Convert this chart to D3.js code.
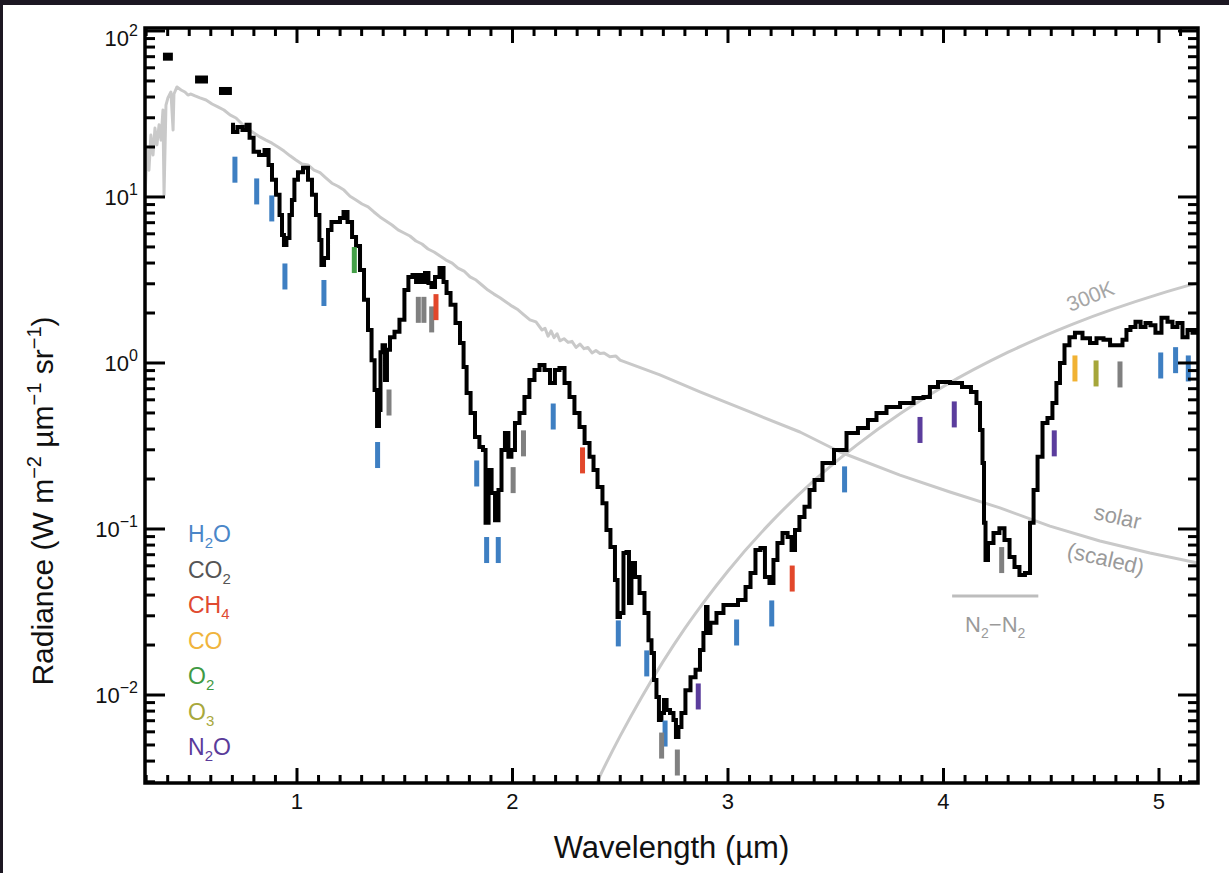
<!DOCTYPE html>
<html><head><meta charset="utf-8">
<script src="https://cdn.jsdelivr.net/npm/d3@7"></script>
<style>
html,body{margin:0;padding:0;background:#1c1722;}
svg{display:block;}
text{font-family:"Liberation Sans",Arial,Helvetica,sans-serif;}
</style></head><body>
<svg id="chart" width="1229" height="873"></svg>
<script>
// ---------- DATA ----------
const spectrumWl = [0.694,0.712,0.735,0.759,0.773,0.787,0.810,0.838,0.861,0.875,
0.893,0.912,0.926,0.935,0.944,0.958,0.972,0.981,0.995,1.014,
1.042,1.060,1.079,1.097,1.111,1.116,1.135,1.153,1.167,1.190,
1.209,1.223,1.246,1.265,1.283,1.302,1.320,1.339,1.353,1.367,
1.376,1.385,1.390,1.404,1.413,1.422,1.441,1.464,1.487,1.510,
1.524,1.548,1.557,1.571,1.585,1.603,1.617,1.631,1.650,1.673,
1.687,1.701,1.724,1.747,1.766,1.780,1.794,1.817,1.835,1.858,
1.868,1.882,1.896,1.910,1.928,1.942,1.956,1.974,1.988,2.002,
2.021,2.044,2.067,2.090,2.114,2.137,2.160,2.188,2.206,2.230,
2.253,2.276,2.299,2.323,2.346,2.369,2.383,2.406,2.429,2.443,
2.466,2.485,2.490,2.508,2.522,2.536,2.545,2.559,2.578,2.601,
2.624,2.638,2.652,2.661,2.675,2.684,2.698,2.708,2.722,2.740,
2.754,2.763,2.777,2.791,2.814,2.838,2.861,2.879,2.893,2.903,
2.907,2.930,2.963,2.995,3.023,3.070,3.093,3.116,3.139,3.162,
3.181,3.204,3.218,3.241,3.265,3.288,3.302,3.320,3.343,3.367,
3.390,3.413,3.464,3.520,3.580,3.626,3.673,3.705,3.766,3.831,
3.891,3.923,3.951,3.998,4.063,4.109,4.146,4.160,4.179,4.183,
4.193,4.197,4.216,4.248,4.271,4.295,4.318,4.341,4.364,4.392,
4.411,4.425,4.448,4.471,4.494,4.517,4.531,4.550,4.573,4.596,
4.624,4.666,4.694,4.726,4.759,4.787,4.819,4.842,4.856,4.879,
4.903,4.926,4.949,4.972,4.995,5.028,5.051,5.074,5.097,5.121,
5.144,5.167,5.181];
const spectrumRad = [27.2,24.6,26.4,25.3,27.2,22.7,18.7,17.9,19.2,15.6,
12.7,10.3,7.79,5.90,5.14,5.66,7.79,9.59,12.7,14.1,
15.0,12.7,10.3,7.79,5.51,3.89,4.29,6.33,7.07,7.07,
7.47,8.12,7.07,5.74,5.07,3.63,2.40,1.58,1.04,0.688,
0.417,0.521,1.16,1.28,0.790,1.20,1.43,1.54,1.82,2.75,
3.30,3.39,3.07,3.39,3.07,3.48,3.03,2.87,3.30,3.73,
3.07,2.64,2.24,1.74,1.32,0.946,0.660,0.500,0.358,0.312,
0.299,0.109,0.227,0.165,0.113,0.172,0.299,0.379,0.272,0.299,
0.435,0.500,0.624,0.790,0.908,0.972,0.908,0.758,0.908,0.933,
0.758,0.624,0.500,0.412,0.330,0.272,0.227,0.179,0.143,0.0986,
0.0779,0.0493,0.0295,0.0312,0.0717,0.0727,0.0358,0.0624,0.0514,0.0412,
0.0312,0.0214,0.0179,0.0123,0.00973,0.00707,0.00780,0.00933,0.00813,0.00780,
0.00707,0.00558,0.00641,0.00780,0.0107,0.0128,0.0142,0.0187,0.0236,0.0339,
0.0236,0.0272,0.0312,0.0348,0.0348,0.0373,0.0448,0.0543,0.0747,0.0769,
0.0514,0.0473,0.0650,0.0824,0.0946,0.0895,0.0747,0.0986,0.118,0.136,
0.172,0.197,0.250,0.299,0.379,0.406,0.454,0.500,0.543,0.574,
0.615,0.624,0.717,0.769,0.758,0.717,0.669,0.574,0.395,0.250,
0.109,0.0650,0.0824,0.0946,0.101,0.0859,0.0678,0.0590,0.0528,0.0543,
0.109,0.172,0.272,0.435,0.466,0.574,0.758,1.00,1.28,1.43,
1.52,1.41,1.32,1.41,1.38,1.28,1.28,1.38,1.58,1.65,
1.77,1.65,1.74,1.69,1.52,1.87,1.77,1.65,1.74,1.43,
1.58,1.52,1.58];

const solarWl = [0.295,0.304,0.313,0.322,0.332,0.341,0.350,0.360,0.369,0.378,
0.383,0.392,0.401,0.415,0.425,0.429,0.443,0.462,0.480,0.494,
0.508,0.527,0.550,0.578,0.606,0.633,0.661,0.689,0.717,0.745,
0.773,0.800,0.828,0.856,0.884,0.912,0.940,0.968,0.995,1.023,
1.051,1.079,1.107,1.135,1.162,1.190,1.218,1.246,1.274,1.302,
1.330,1.357,1.385,1.413,1.441,1.469,1.497,1.524,1.552,1.580,
1.608,1.636,1.664,1.692,1.720,1.747,1.775,1.803,1.831,1.858,
1.886,1.914,1.942,1.970,1.998,2.026,2.053,2.081,2.109,2.137,
2.151,2.165,2.179,2.193,2.207,2.220,2.239,2.258,2.276,2.295,
2.313,2.332,2.350,2.369,2.387,2.406,2.425,2.452,2.480,2.499,
2.684,2.870,3.102,3.334,3.520,3.798,4.030,4.262,4.494,4.726,4.958,5.181];
const solarRad = [10.3,19.2,14.5,23.6,17.9,26.0,20.6,27.2,22.0,33.4,
10.3,35.8,39.5,42.9,25.3,41.7,46.0,44.1,42.9,41.1,
41.7,40.6,39.5,38.4,36.3,34.9,33.4,31.2,29.9,27.5,
25.7,24.3,23.0,22.0,21.1,20.0,18.9,17.7,16.7,15.8,
15.6,14.5,14.0,13.0,12.1,11.6,11.0,10.1,9.59,9.07,
8.71,8.12,7.58,7.17,6.78,6.33,6.07,5.82,5.43,5.21,
4.86,4.66,4.41,4.17,4.00,3.73,3.58,3.30,3.16,2.95,
2.75,2.60,2.47,2.33,2.20,2.09,1.95,1.82,1.77,1.58,
1.62,1.45,1.56,1.42,1.50,1.36,1.40,1.33,1.35,1.24,
1.30,1.22,1.24,1.15,1.19,1.14,1.15,1.09,1.10,1.04,
0.847,0.669,0.507,0.384,0.291,0.211,0.167,0.134,0.104,0.0847,0.0717,0.0624];

const bb300Wl  = [2.38,2.40,2.50,2.60,2.70,2.80,2.90,3.00,3.20,3.40,3.60,3.80,4.00,4.30,4.60,5.00,5.20];
const bb300Rad = [0.00277,0.00314,0.00567,0.00974,0.0160,0.0252,0.0381,0.0559,0.110,0.196,0.322,0.496,0.722,1.161,1.716,2.60,3.09];

const photWl    = [0.401,0.557,0.668];
const photRad   = [70,51,43.5];
const photWidth = [0.046,0.060,0.060];

const markerSpecies = ["H2O","H2O","H2O","H2O","H2O","H2O","H2O","H2O","H2O","H2O","H2O","H2O","H2O","H2O","H2O","H2O","H2O","H2O","H2O",
  "CO2","CO2","CO2","CO2","CO2","CO2","CO2","CO2","CO2","CO2",
  "CH4","CH4","CH4","CO","O2","O3","N2O","N2O","N2O","N2O"];
const markerWl = [0.712,0.813,0.883,0.944,1.125,1.374,1.834,1.880,1.934,2.189,2.491,2.623,2.708,3.040,3.203,3.541,5.008,5.077,5.136,
  1.563,1.589,1.625,1.427,2.003,2.051,2.692,2.765,4.270,4.819,
  1.645,2.325,3.298,4.610,1.266,4.708,2.862,3.891,4.050,4.514];
const markerRad = [14.6,10.8,8.53,3.32,2.64,0.279,0.216,0.0747,0.0747,0.476,0.0235,0.0155,0.00586,0.0238,0.0310,0.199,0.966,1.04,0.927,
  2.09,2.09,1.83,0.578,0.197,0.328,0.00496,0.00392,0.0650,0.853,
  2.17,0.259,0.0503,0.927,4.17,0.865,0.00980,0.395,0.490,0.328];

const speciesKeys   = ["H2O","CO2","CH4","CO","O2","O3","N2O"];
const speciesParts  = [["H","2","O"],["CO","2",""],["CH","4",""],["CO","",""],["O","2",""],["O","3",""],["N","2","O"]];
const speciesColor  = ["#3e7fc2","#808080","#e2472b","#f1b233","#45a048","#a6a63a","#5b3d9d"];
const legendColor   = ["#4a86c8","#555555","#e04a30","#f0b43c","#3f9a44","#a8a83c","#5a3b9a"];

const xTickLabels = ["1","2","3","4","5"];
const xTickValues = [1,2,3,4,5];
const yTickExps   = ["2","1","0","\u22121","\u22122"];
const yTickValues = [100,10,1,0.1,0.01];

const n2Band = [4.04,4.44];
const n2Level = 0.0395;

// ---------- LAYOUT ----------
const W=1229,H=873;
const L=145,R=1198,T=28,B=783;
const x=d3.scaleLinear().domain([0.2947,5.181]).range([L,R]);
const y=d3.scaleLog().domain([0.002951,104.2]).range([B,T]);
const svg=d3.select('#chart');

svg.append('rect').attr('x',3).attr('y',5).attr('width',W-3).attr('height',H-5).attr('fill','#ffffff');

svg.append('defs').append('clipPath').attr('id','clip')
  .append('rect').attr('x',L).attr('y',T).attr('width',R-L).attr('height',B-T);
const plot=svg.append('g').attr('clip-path','url(#clip)');

const lineGen=(curve)=>d3.line().x(d=>x(d[0])).y(d=>y(d[1])).curve(curve);

// 300K blackbody
plot.append('path').datum(d3.zip(bb300Wl,bb300Rad))
  .attr('d',lineGen(d3.curveMonotoneX)).attr('fill','none')
  .attr('stroke','#c9c9c9').attr('stroke-width',3);
// solar scaled
plot.append('path').datum(d3.zip(solarWl,solarRad))
  .attr('d',lineGen(d3.curveLinear)).attr('fill','none')
  .attr('stroke','#c9c9c9').attr('stroke-width',3).attr('stroke-linejoin','round');

// spectrum
plot.append('path').datum(d3.zip(spectrumWl,spectrumRad))
  .attr('d',lineGen(d3.curveStep)).attr('fill','none')
  .attr('stroke','#000').attr('stroke-width',4).attr('stroke-linejoin','miter');

// photometry boxes
plot.selectAll('rect.phot').data(d3.zip(photWl,photRad,photWidth)).enter().append('rect')
  .attr('x',d=>x(d[0]-d[2]/2)).attr('width',d=>x(d[0]+d[2]/2)-x(d[0]-d[2]/2))
  .attr('y',d=>y(d[1])-4).attr('height',8).attr('fill','#000');

// absorption markers
plot.selectAll('rect.mk').data(d3.zip(markerSpecies,markerWl,markerRad)).enter().append('rect')
  .attr('x',d=>x(d[1])-2.5).attr('width',5)
  .attr('y',d=>y(d[2])-13).attr('height',26)
  .attr('fill',d=>speciesColor[speciesKeys.indexOf(d[0])]);

// N2-N2 band
svg.append('line').attr('x1',x(n2Band[0])).attr('x2',x(n2Band[1]))
  .attr('y1',y(n2Level)).attr('y2',y(n2Level)).attr('stroke','#bdbdbd').attr('stroke-width',3);
const n2t=svg.append('text').attr('x',x((n2Band[0]+n2Band[1])/2)).attr('y',y(0.0240))
  .attr('text-anchor','middle').attr('font-size',22).attr('fill','#9a9a9a');
n2t.append('tspan').text('N');
n2t.append('tspan').attr('font-size',14).attr('dy',6).text('2');
n2t.append('tspan').attr('dy',-6).text('\u2212N');
n2t.append('tspan').attr('font-size',14).attr('dy',6).text('2');

// curve labels
svg.append('text').attr('transform',`translate(${x(4.694)},${y(2.30)}) rotate(-22)`)
  .attr('text-anchor','middle').attr('font-size',21).attr('fill','#a6a6a6').text('300K');
svg.append('text').attr('transform',`translate(${x(4.80)},${y(0.107)}) rotate(13)`)
  .attr('text-anchor','middle').attr('font-size',22).attr('fill','#9a9a9a').text('solar');
svg.append('text').attr('transform',`translate(${x(4.745)},${y(0.0598)}) rotate(13)`)
  .attr('text-anchor','middle').attr('font-size',22).attr('fill','#9a9a9a').text('(scaled)');

// legend
speciesParts.forEach((p,i)=>{
  const t=svg.append('text').attr('x',188).attr('y',542+i*35.5).attr('font-size',23).attr('fill',legendColor[i]);
  t.append('tspan').text(p[0]);
  if(p[1]) t.append('tspan').attr('font-size',15).attr('dy',6).text(p[1]);
  if(p[2]) t.append('tspan').attr('dy',-6).text(p[2]);
});

// frame & ticks
const ax=svg.append('g').attr('stroke','#000').attr('stroke-width',3);
const xMajor=new Set(xTickValues);
x.ticks(50).forEach(v=>{
  const isMaj=xMajor.has(Math.round(v*10)/10);
  const len=isMaj?15:8;
  ax.append('line').attr('x1',x(v)).attr('x2',x(v)).attr('y1',B).attr('y2',B-len);
  ax.append('line').attr('x1',x(v)).attr('x2',x(v)).attr('y1',T).attr('y2',T+len);
});
y.ticks().forEach(v=>{
  const lg=Math.log10(v);
  const isMaj=Math.abs(lg-Math.round(lg))<1e-6;
  const len=isMaj?20:10;
  ax.append('line').attr('x1',L).attr('x2',L+len).attr('y1',y(v)).attr('y2',y(v));
  ax.append('line').attr('x1',R).attr('x2',R-len).attr('y1',y(v)).attr('y2',y(v));
});
svg.append('rect').attr('x',L).attr('y',T).attr('width',R-L).attr('height',B-T)
  .attr('fill','none').attr('stroke','#000').attr('stroke-width',3.5);

// tick labels
xTickValues.forEach((v,i)=>{
  svg.append('text').attr('x',x(v)).attr('y',809).attr('text-anchor','middle')
    .attr('font-size',22).attr('fill','#111').text(xTickLabels[i]);
});
yTickValues.forEach((v,i)=>{
  const t=svg.append('text').attr('x',138).attr('y',Math.max(y(v)+8,46))
    .attr('text-anchor','end').attr('font-size',22).attr('fill','#111');
  t.append('tspan').text('10');
  t.append('tspan').attr('font-size',16).attr('dy',-10).text(yTickExps[i]);
});

// axis titles
svg.append('text').attr('x',(L+R)/2).attr('y',858).attr('text-anchor','middle')
  .attr('font-size',31).attr('fill','#111').text('Wavelength (\u00b5m)');
const yt=svg.append('text').attr('transform','translate(53,501) rotate(-90)')
  .attr('text-anchor','middle').attr('font-size',30).attr('fill','#111');
yt.append('tspan').text('Radiance (W m');
yt.append('tspan').attr('font-size',20).attr('dy',-12).text('\u22122');
yt.append('tspan').attr('dy',12).text(' \u00b5m');
yt.append('tspan').attr('font-size',20).attr('dy',-12).text('\u22121');
yt.append('tspan').attr('dy',12).text(' sr');
yt.append('tspan').attr('font-size',20).attr('dy',-12).text('\u22121');
yt.append('tspan').attr('dy',12).text(')');
</script>
</body></html>
